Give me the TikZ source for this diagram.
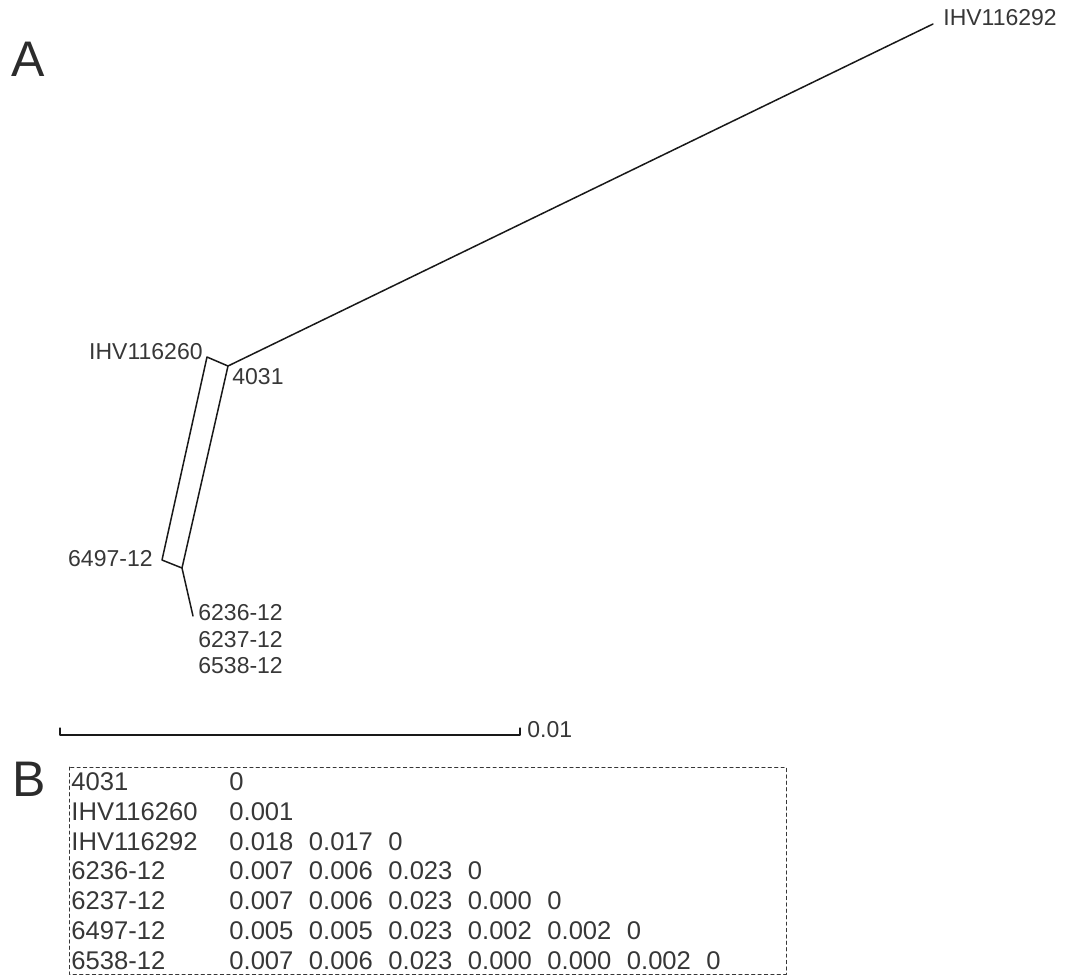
\documentclass[tikz,border=0pt]{standalone}
\usepackage{fontspec}
\setmainfont{Liberation Sans}
\usepackage{tikz}
\usetikzlibrary{positioning}
\definecolor{inkgray}{RGB}{55,55,55}
\definecolor{linegray}{RGB}{25,25,25}
\tikzset{
  taxon/.style={inner sep=0pt, text=inkgray, font=\fontsize{11.5}{13}\selectfont},
  tabtxt/.style={inner sep=0pt, anchor=west, text=inkgray, font=\fontsize{12.8}{14}\selectfont},
  panel/.style={inner sep=0pt, text=inkgray!80!black, font=\fontsize{25}{27}\selectfont},
  branch/.style={draw=linegray, line width=0.75pt},
  framebox/.style={draw=inkgray, line width=0.5pt, dash pattern=on 1.6pt off 1.6pt}
}
\begin{document}
\begin{tikzpicture}[x=0.5pt, y=-0.5pt, line join=round, line cap=round]
\useasboundingbox (0,0) rectangle (1073,976);
\coordinate (t292) at (933,24);
\coordinate (j4031) at (228,366);
\coordinate (t260) at (207,357);
\coordinate (t6497) at (162,560);
\coordinate (jlow) at (182,568);
\coordinate (tlow) at (193,616);
\coordinate (sbL) at (60,735);
\coordinate (sbR) at (520,735);
\draw[branch] (j4031) -- (t292);
\draw[branch] (t260) -- (j4031) -- (jlow) -- (t6497) -- cycle;
\draw[branch] (jlow) -- (tlow);
\draw[branch, line width=0.6pt] (sbL) ++(0,-7) -- (sbL) -- (sbR) -- ++(0,-7);
\node[panel] (pA) at (28,59) {A};
\node[panel] (pB) at (29,779) {B};
\node[taxon, anchor=west] (l292) at (943,18) {IHV116292};
\node[taxon, anchor=east] (l260) at (203,352) {IHV116260};
\node[taxon, anchor=west] (l4031) at (232,377) {4031};
\node[taxon, anchor=east] (l6497) at (153,559) {6497-12};
\node[taxon, anchor=west] (l6236) at (198,613) {6236-12};
\node[taxon, anchor=west] (l6237) at (198,640) {6237-12};
\node[taxon, anchor=west] (l6538) at (198,666) {6538-12};
\node[taxon, anchor=west] (lbar) at (527,730) {0.01};
\draw[framebox] (69,767) rectangle (786,974);
\foreach \nm/\vals [count=\r] in {4031/{0}, IHV116260/{0.001}, IHV116292/{0.018,0.017,0},
    6236-12/{0.007,0.006,0.023,0}, 6237-12/{0.007,0.006,0.023,0.000,0},
    6497-12/{0.005,0.005,0.023,0.002,0.002,0}, 6538-12/{0.007,0.006,0.023,0.000,0.000,0.002,0}} {
  \node[tabtxt] (row\r) at (71,{782+29.7*(\r-1)}) {\nm};
  \foreach \v [count=\c] in \vals
    \node[tabtxt] (d\r-\c) at ({229+79.5*(\c-1)},{782+29.7*(\r-1)}) {\v};
}
\end{tikzpicture}
\end{document}
